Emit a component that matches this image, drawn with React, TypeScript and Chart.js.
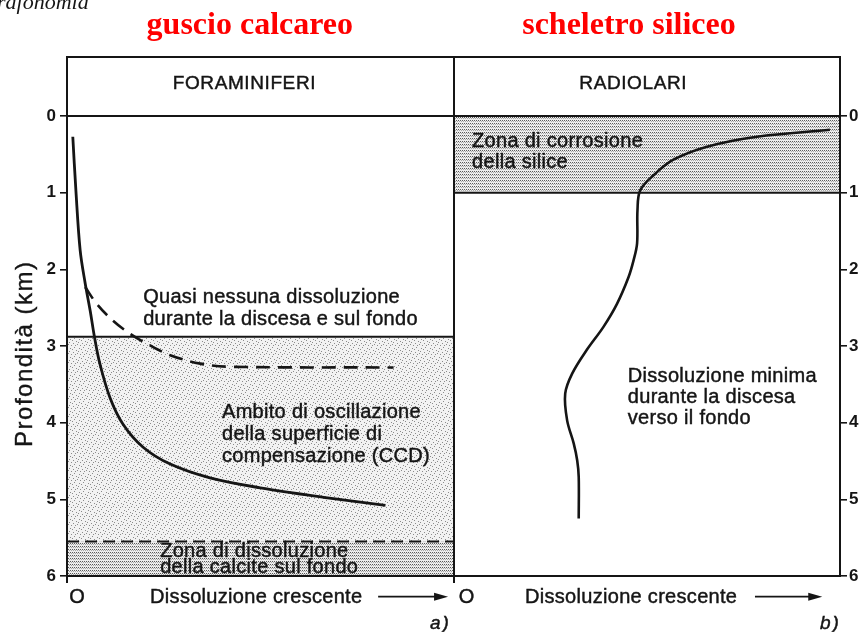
import React, { useEffect, useRef } from "react";
import { Chart, registerables } from "chart.js";

Chart.register(...registerables);

// ---------------- data ----------------
const depthTicks = [0, 1, 2, 3, 4, 5, 6];
const panelEdges = [0, 100, 200];
const headerTop = -0.77;
const maxDepth = 6;

// Foraminiferi: solid dissolution curve (x: dissolution 0-100, y: depth km)
const foramSolidX = [1.5, 2.3, 3.4, 4.7, 6.0, 7.1, 8.5, 11.1, 14.5, 19.7, 26.7, 37.0, 50.0, 67.4, 82.4];
const foramSolidDepth = [0.27, 0.97, 1.75, 2.18, 2.54, 2.88, 3.23, 3.67, 4.02, 4.32, 4.54, 4.72, 4.85, 4.98, 5.08];

// Foraminiferi: dashed curve
const foramDashedX = [4.7, 7.7, 11.9, 16.3, 20.7, 26.7, 34.5, 41.5, 84.5];
const foramDashedDepth = [2.23, 2.45, 2.67, 2.84, 2.97, 3.12, 3.23, 3.27, 3.28];

// Radiolari curve (x: 100-200 = right panel)
const radioX = [132.4, 132.4, 132.0, 131.1, 129.4, 128.9, 130.7, 134.5, 138.8, 142.3, 145.3, 146.6, 147.5, 147.6, 148.3, 151.8, 156.9, 165.6, 178.5, 197.4];
const radioDepth = [5.25, 4.71, 4.49, 4.27, 3.97, 3.62, 3.36, 3.05, 2.75, 2.45, 2.10, 1.88, 1.66, 1.23, 0.97, 0.77, 0.57, 0.40, 0.27, 0.18];

const ccdTopDepth = 2.88;
const calciteZoneTop = 5.55;
const silicaZoneBottom = 1.0;

const groupTitles = ["guscio calcareo", "scheletro siliceo"];
const panelTitles = ["FORAMINIFERI", "RADIOLARI"];
const noteLines = [
  ["Quasi nessuna dissoluzione", "durante la discesa e sul fondo"],
  ["Ambito di oscillazione", "della superficie di", "compensazione (CCD)"],
  ["Zona di dissoluzione", "della calcite sul fondo"],
  ["Zona di corrosione", "della silice"],
  ["Dissoluzione minima", "durante la discesa", "verso il fondo"],
];
const axisOrigin = "O";
const axisLabel = "Dissoluzione crescente";
const panelLetters = ["a)", "b)"];
const yTitle = "Profondità (km)";
const pageHeader = "rafonomia";

// ---------------- layout (anchors in data coordinates) ----------------
const LAYOUT = {
  groupTitle: { x: [47.3, 145.4], y: -1.07 },
  panelTitle: { x: [45.9, 146.5], y: -0.35 },
  notes: [
    { x: 19.7, y: 2.44, gap: 22, align: "left" },
    { x: 40.1, y: 3.94, gap: 22, align: "left" },
    { x: 24.1, y: 5.75, gap: 16, align: "left" },
    { x: 104.8, y: 0.40, gap: 21, align: "left" },
    { x: 145.1, y: 3.47, gap: 21, align: "left" },
  ],
  origin: { x: [2.6, 103.4], y: 6.35 },
  label: { x: [21.5, 118.5], y: 6.35 },
  arrow: { x1: [80.5, 178], x2: [98.6, 195.4], y: 6.27 },
  letter: { x: [93.9, 194.8], y: 6.69 },
  yTitle: { depth: 3.1, px: 25 },
  header: { x: -18.1, y: -1.39 },
};

const INK = "#151515";
const SANS = '"Liberation Sans", Arial, sans-serif';

function makePattern(kind: string): CanvasPattern | string {
  const c = document.createElement("canvas");
  const g = c.getContext("2d");
  if (!g) return "#ddd";
  if (kind === "dense") {
    c.width = 4; c.height = 3;
    g.fillStyle = "#ededed"; g.fillRect(0, 0, 4, 3);
    g.fillStyle = "#5a5a5a"; g.fillRect(0, 0, 1, 1); g.fillRect(2, 0, 1, 1);
    g.fillStyle = "#a8a8a8"; g.fillRect(1, 1, 1, 1); g.fillRect(3, 1, 1, 1);
  } else {
    c.width = 9; c.height = 9;
    g.fillStyle = "#f2f2f2"; g.fillRect(0, 0, 9, 9);
    g.fillStyle = "#8c8c8c";
    [[1, 1], [5, 2], [2, 5], [7, 6], [6, 0], [0, 7], [4, 8], [8, 3], [3, 3]].forEach(([a, b]) => g.fillRect(a, b, 1, 1));
  }
  const p = g.createPattern(c, "repeat");
  return p || "#ddd";
}

function pts(xs: number[], ys: number[]) {
  return xs.map((x, i) => ({ x, y: ys[i] }));
}

export default function App() {
  const ref = useRef<HTMLCanvasElement | null>(null);

  useEffect(() => {
    document.body.style.margin = "0";
    document.body.style.overflow = "hidden";
    const canvas = ref.current;
    if (!canvas) return;
    const dense = makePattern("dense");
    const light = makePattern("light");

    const zonesPlugin = {
      id: "zones",
      beforeDraw(chart: any) {
        const { ctx, scales } = chart;
        const x = scales.x, y = scales.y;
        const rect = (x0: number, x1: number, d0: number, d1: number, fill: any) => {
          const px0 = x.getPixelForValue(x0), px1 = x.getPixelForValue(x1);
          const py0 = y.getPixelForValue(d0), py1 = y.getPixelForValue(d1);
          ctx.save();
          ctx.fillStyle = fill;
          ctx.fillRect(px0, py0, px1 - px0, py1 - py0);
          ctx.restore();
        };
        rect(panelEdges[0], panelEdges[1], ccdTopDepth, calciteZoneTop, light);
        rect(panelEdges[0], panelEdges[1], calciteZoneTop, maxDepth, dense);
        rect(panelEdges[1], panelEdges[2], 0, silicaZoneBottom, dense);
      },
    };

    const textPlugin = {
      id: "texts",
      afterDraw(chart: any) {
        const { ctx, scales } = chart;
        const X = (v: number) => scales.x.getPixelForValue(v);
        const Y = (v: number) => scales.y.getPixelForValue(v);
        const txt = (s: string, x: number, y: number, font: string, align: CanvasTextAlign = "left", color = INK, spacing = "0px", thick = 0.45) => {
          ctx.save();
          ctx.font = font;
          ctx.fillStyle = color;
          ctx.strokeStyle = color;
          ctx.lineWidth = thick;
          ctx.textAlign = align;
          ctx.textBaseline = "alphabetic";
          (ctx as any).letterSpacing = spacing;
          ctx.fillText(s, x, y);
          if (thick > 0) ctx.strokeText(s, x, y);
          ctx.restore();
        };
        // page header fragment
        txt(pageHeader, X(LAYOUT.header.x), Y(LAYOUT.header.y), `italic 22px "Liberation Serif", serif`, "left", INK, "0px", 0);
        // red group titles
        groupTitles.forEach((t, i) =>
          txt(t, X(LAYOUT.groupTitle.x[i]), Y(LAYOUT.groupTitle.y), `bold 32px "Liberation Serif", serif`, "center", "#ff0000", "0px", 0));
        // panel titles
        panelTitles.forEach((t, i) =>
          txt(t, X(LAYOUT.panelTitle.x[i]), Y(LAYOUT.panelTitle.y), `19px ${SANS}`, "center", INK, "0.6px"));
        // notes
        noteLines.forEach((lines, i) => {
          const a = LAYOUT.notes[i];
          lines.forEach((l, j) => txt(l, X(a.x), Y(a.y) + j * a.gap, `20px ${SANS}`, a.align as CanvasTextAlign, INK, "0.3px"));
        });
        // bottom labels
        for (let i = 0; i < 2; i++) {
          txt(axisOrigin, X(LAYOUT.origin.x[i]), Y(LAYOUT.origin.y), `20px ${SANS}`, "center");
          txt(axisLabel, X(LAYOUT.label.x[i]), Y(LAYOUT.label.y), `20px ${SANS}`, "left", INK, "0.3px");
          txt(panelLetters[i], X(LAYOUT.letter.x[i]), Y(LAYOUT.letter.y), `italic 19px ${SANS}`, "left", INK, "2px");
          const x1 = X(LAYOUT.arrow.x1[i]), x2 = X(LAYOUT.arrow.x2[i]), ay = Y(LAYOUT.arrow.y);
          ctx.save();
          ctx.strokeStyle = INK; ctx.fillStyle = INK; ctx.lineWidth = 1.8;
          ctx.beginPath(); ctx.moveTo(x1, ay); ctx.lineTo(x2 - 8, ay); ctx.stroke();
          ctx.beginPath(); ctx.moveTo(x2, ay); ctx.lineTo(x2 - 14, ay - 4); ctx.lineTo(x2 - 14, ay + 4); ctx.closePath(); ctx.fill();
          ctx.restore();
        }
        // y title
        ctx.save();
        ctx.translate(LAYOUT.yTitle.px, Y(LAYOUT.yTitle.depth));
        ctx.rotate(-Math.PI / 2);
        ctx.font = `24px ${SANS}`;
        (ctx as any).letterSpacing = "1.5px";
        ctx.fillStyle = INK;
        ctx.strokeStyle = INK;
        ctx.lineWidth = 0.4;
        ctx.textAlign = "center";
        ctx.textBaseline = "middle";
        ctx.fillText(yTitle, 0, 0);
        ctx.strokeText(yTitle, 0, 0);
        ctx.restore();
      },
    };

    const lineDs = (data: any[], extra: any = {}) => ({
      data,
      showLine: true,
      borderColor: INK,
      backgroundColor: INK,
      borderWidth: 2,
      pointRadius: 0,
      pointHoverRadius: 0,
      tension: 0,
      ...extra,
    });

    const yCommon = (pos: string, width: number, pad: number) => ({
      type: "linear",
      position: pos,
      reverse: true,
      min: headerTop,
      max: maxDepth,
      afterBuildTicks: (s: any) => { s.ticks = depthTicks.map((v) => ({ value: v })); },
      afterFit: (s: any) => { s.width = width; },
      grid: { drawOnChartArea: false, color: INK, lineWidth: 1.6, tickLength: 7 },
      border: { display: true, color: INK, width: 2 },
      ticks: { color: INK, font: { family: SANS, size: 17, weight: "bold" }, padding: pad },
    });

    const chart = new Chart(canvas, {
      type: "scatter",
      data: {
        datasets: [
          lineDs(pts(foramSolidX, foramSolidDepth), { borderWidth: 2.8, tension: 0.35 }),
          lineDs(pts(foramDashedX, foramDashedDepth), { borderWidth: 2.6, tension: 0.35, borderDash: [14, 8] }),
          lineDs(pts(radioX, radioDepth), { borderWidth: 2.6, tension: 0.35 }),
          lineDs(pts([panelEdges[0], panelEdges[2]], [0, 0])),
          lineDs(pts([panelEdges[0], panelEdges[1]], [ccdTopDepth, ccdTopDepth])),
          lineDs(pts([panelEdges[1], panelEdges[2]], [silicaZoneBottom, silicaZoneBottom])),
          lineDs(pts([panelEdges[0], panelEdges[1]], [calciteZoneTop, calciteZoneTop]), { borderDash: [12, 6] }),
        ],
      },
      options: {
        animation: false,
        responsive: false,
        events: [],
        layout: { padding: 0 },
        plugins: { legend: { display: false }, tooltip: { enabled: false }, title: { display: false } },
        scales: {
          x: {
            type: "linear",
            position: "bottom",
            min: panelEdges[0],
            max: panelEdges[2],
            afterBuildTicks: (s: any) => { s.ticks = panelEdges.map((v) => ({ value: v })); },
            afterFit: (s: any) => { s.height = 56; },
            ticks: { display: false },
            grid: {
              drawOnChartArea: true,
              tickLength: 7,
              lineWidth: 2,
              color: (c: any) => (c.tick && c.tick.value === panelEdges[2] ? "rgba(0,0,0,0)" : INK),
            },
            border: { display: true, color: INK, width: 2 },
          },
          xTop: {
            type: "linear",
            position: "top",
            min: panelEdges[0],
            max: panelEdges[2],
            afterFit: (s: any) => { s.height = 57; },
            ticks: { display: false },
            grid: { display: false, drawTicks: false },
            border: { display: true, color: INK, width: 2 },
          },
          y: yCommon("left", 67, 4),
          y2: yCommon("right", 23, 2),
        } as any,
      },
      plugins: [zonesPlugin, textPlugin],
    } as any);

    return () => chart.destroy();
  }, []);

  return (
    <div style={{ width: 863, height: 632, background: "#fff" }}>
      <canvas ref={ref} width={863} height={632} style={{ display: "block" }} />
    </div>
  );
}
